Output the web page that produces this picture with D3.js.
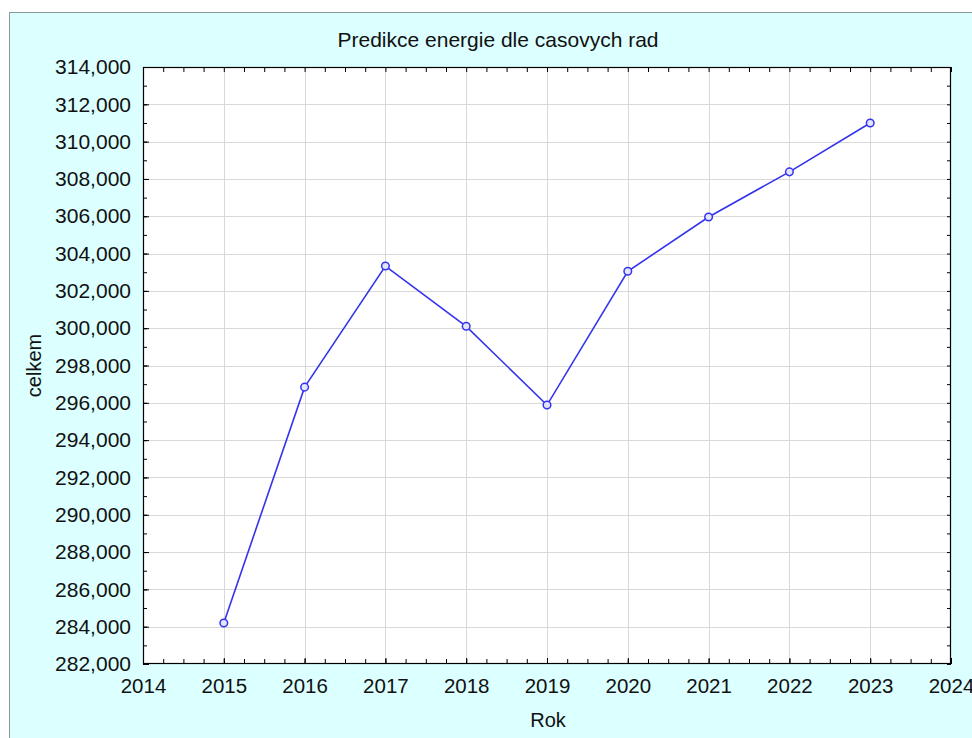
<!DOCTYPE html>
<html>
<head>
<meta charset="utf-8">
<script src="https://cdn.jsdelivr.net/npm/d3@7"></script>
<style>
  html, body { margin: 0; padding: 0; background: #fff; }
  svg { display: block; font-family: "Liberation Sans", Arial, sans-serif; }
</style>
</head>
<body>
<div id="chart"></div>
<script>
const years = [2015, 2016, 2017, 2018, 2019, 2020, 2021, 2022, 2023];
const celkem = [284200, 296840, 303330, 300100, 295880, 303050, 305960, 308380, 311000];
const xTicks = [2014, 2015, 2016, 2017, 2018, 2019, 2020, 2021, 2022, 2023, 2024];
const yTicks = [282000, 284000, 286000, 288000, 290000, 292000, 294000, 296000, 298000, 300000, 302000, 304000, 306000, 308000, 310000, 312000, 314000];
const title = "Predikce energie dle casovych rad";
const xTitle = "Rok";
const yTitle = "celkem";

const width = 972, height = 738;
const plot = { left: 143, top: 67, right: 951, bottom: 664 };

const svg = d3.select("#chart").append("svg")
  .attr("width", width)
  .attr("height", height);

// outer panel
svg.append("rect")
  .attr("x", 9.5).attr("y", 12.5)
  .attr("width", 1000).attr("height", 800)
  .attr("fill", "#dcffff")
  .attr("stroke", "#8a9a9a")
  .attr("stroke-width", 1);

const x = d3.scaleLinear().domain([2014, 2024]).range([plot.left, plot.right]);
const y = d3.scaleLinear().domain([282000, 314000]).range([plot.bottom, plot.top]);

svg.append("rect")
  .attr("x", plot.left).attr("y", plot.top)
  .attr("width", plot.right - plot.left).attr("height", plot.bottom - plot.top)
  .attr("fill", "#ffffff");

// grid
const grid = svg.append("g").attr("stroke", "#d9d9d9").attr("stroke-width", 1);
grid.selectAll(".gx").data(xTicks.slice(1, -1)).enter().append("line")
  .attr("x1", d => Math.round(x(d)) + 0.5).attr("x2", d => Math.round(x(d)) + 0.5)
  .attr("y1", plot.top).attr("y2", plot.bottom);
grid.selectAll(".gy").data(yTicks.slice(1, -1)).enter().append("line")
  .attr("y1", d => Math.round(y(d)) + 0.5).attr("y2", d => Math.round(y(d)) + 0.5)
  .attr("x1", plot.left).attr("x2", plot.right);

// axes with inward ticks on all four sides
const xMinor = d3.range(2014, 2024.001, 0.25);
const yMinor = d3.range(282000, 314001, 1000);
const fmtX = d3.format("d");
const fmtY = d3.format(",");

function styleAxis(g) {
  g.select(".domain").remove();
  g.selectAll("line").attr("stroke", "#000");
}

svg.append("g").attr("transform", `translate(0,${plot.bottom})`)
  .call(d3.axisBottom(x).tickValues(xMinor).tickSize(-5).tickFormat(""))
  .call(styleAxis);
svg.append("g").attr("transform", `translate(0,${plot.bottom})`)
  .call(d3.axisBottom(x).tickValues(xTicks).tickSize(-6).tickPadding(14).tickFormat(fmtX))
  .call(styleAxis)
  .call(g => g.selectAll("text").attr("font-size", "20.5px").attr("fill", "#111").attr("font-family", "Liberation Sans, Arial, sans-serif"));
svg.append("g").attr("transform", `translate(0,${plot.top})`)
  .call(d3.axisTop(x).tickValues(xMinor).tickSize(-5).tickFormat(""))
  .call(styleAxis);

svg.append("g").attr("transform", `translate(${plot.left},0)`)
  .call(d3.axisLeft(y).tickValues(yMinor).tickSize(-4).tickFormat(""))
  .call(styleAxis);
svg.append("g").attr("transform", `translate(${plot.left},0)`)
  .call(d3.axisLeft(y).tickValues(yTicks).tickSize(-6).tickPadding(12).tickFormat(fmtY))
  .call(styleAxis)
  .call(g => g.selectAll("text").attr("font-size", "21px").attr("fill", "#111").attr("font-family", "Liberation Sans, Arial, sans-serif"));
svg.append("g").attr("transform", `translate(${plot.right},0)`)
  .call(d3.axisRight(y).tickValues(yMinor).tickSize(-4).tickFormat(""))
  .call(styleAxis);

// plot frame
svg.append("rect")
  .attr("x", plot.left + 0.5).attr("y", plot.top + 0.5)
  .attr("width", plot.right - plot.left - 1).attr("height", plot.bottom - plot.top - 1)
  .attr("fill", "none").attr("stroke", "#000").attr("stroke-width", 1.2);

// series
const pts = years.map((d, i) => [d, celkem[i]]);
const line = d3.line().x(d => x(d[0])).y(d => y(d[1]));
svg.append("path")
  .datum(pts)
  .attr("d", line)
  .attr("fill", "none")
  .attr("stroke", "#3434ee")
  .attr("stroke-width", 1.6);
svg.selectAll(".pt").data(pts).enter().append("circle")
  .attr("cx", d => x(d[0])).attr("cy", d => y(d[1]))
  .attr("r", 3.8)
  .attr("fill", "#e4e4ff")
  .attr("stroke", "#3434ee")
  .attr("stroke-width", 1.5);

// titles
svg.append("text")
  .attr("x", 498).attr("y", 47)
  .attr("text-anchor", "middle")
  .attr("font-size", "21px")
  .attr("fill", "#111")
  .text(title);
svg.append("text")
  .attr("x", 548).attr("y", 727)
  .attr("text-anchor", "middle")
  .attr("font-size", "20px")
  .attr("fill", "#111")
  .text(xTitle);
svg.append("text")
  .attr("transform", `translate(41,${(plot.top + plot.bottom) / 2}) rotate(-90)`)
  .attr("text-anchor", "middle")
  .attr("font-size", "20px")
  .attr("fill", "#111")
  .text(yTitle);
</script>
</body>
</html>
